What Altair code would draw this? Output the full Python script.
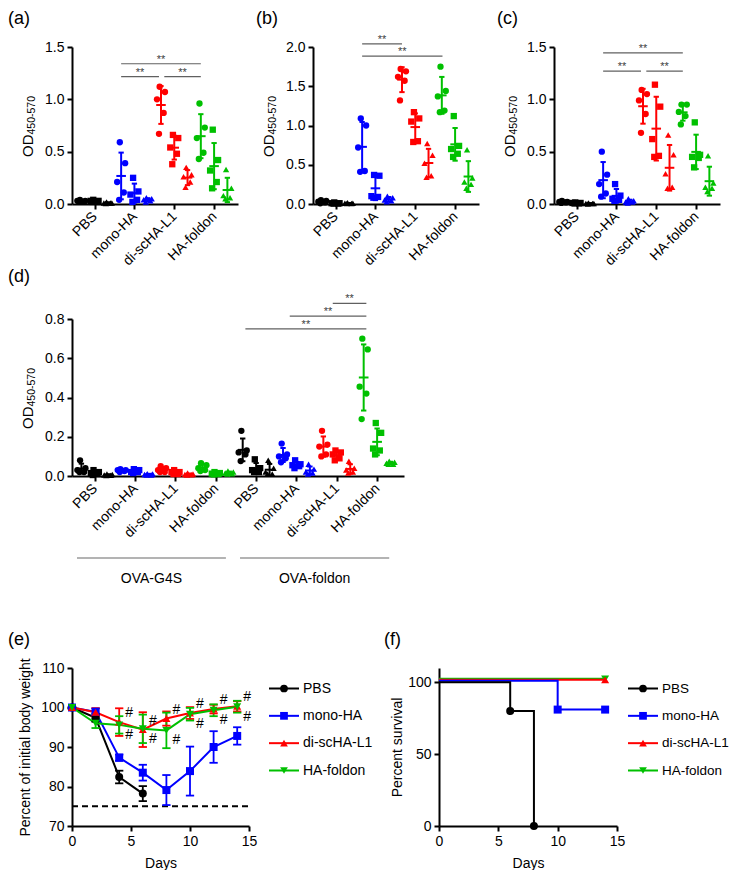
import altair as alt
import numpy as np
import pandas as pd

FONT = "Liberation Sans"
BLACK, BLUE, RED, GREEN = "#000000", "#0000FF", "#FF0000", "#00C000"

GROUPS = ["PBS", "mono-HA", "di-scHA-L1", "HA-foldon"]
GROUP_COLORS = [BLACK, BLUE, RED, GREEN]
DOT_SHAPES = ["circle", "square", "triangle-up"]
JITTER = [-0.1, 0.3, -0.3, 0.2, -0.15]

# ---- panel (a): per group -> [circle, square, triangle] replicate values
A_PBS = [[0.04, 0.03, 0.03, 0.02, 0.02], [0.04, 0.03, 0.03, 0.02, 0.02], [0.02, 0.01, 0.01, 0.01, 0.005]]
A_MONO = [[0.59, 0.39, 0.21, 0.11, 0.04], [0.25, 0.12, 0.09, 0.04, 0.02], [0.06, 0.05, 0.04, 0.03, 0.02]]
A_DI = [[1.12, 1.07, 1.00, 0.87, 0.67], [0.66, 0.63, 0.54, 0.48, 0.38], [0.35, 0.28, 0.26, 0.21, 0.16]]
A_HAF = [[0.96, 0.73, 0.63, 0.49, 0.43], [0.71, 0.42, 0.32, 0.21, 0.15], [0.33, 0.15, 0.08, 0.06, 0.05]]
A_SIG = [(3, 9, 1.34), (3, 5.85, 1.217), (6.25, 9, 1.217)]

# ---- panel (b)
B_PBS = [[0.05, 0.04, 0.03, 0.02, 0.01], [0.02, 0.01, 0.01, 0.005, 0.005], [0.015, 0.01, 0.01, 0.005, 0.005]]
B_MONO = [[1.09, 1.00, 0.72, 0.42, 0.41], [0.37, 0.36, 0.10, 0.09, 0.08], [0.10, 0.08, 0.05, 0.04, 0.03]]
B_DI = [[1.72, 1.69, 1.62, 1.57, 1.32], [1.17, 1.09, 1.05, 0.80, 0.79], [0.77, 0.62, 0.52, 0.36, 0.34]]
B_HAF = [[1.75, 1.44, 1.37, 1.19, 1.17], [1.12, 0.74, 0.70, 0.64, 0.60], [0.69, 0.33, 0.28, 0.25, 0.20]]
B_SIG = [(3, 6, 2.04), (3, 9.05, 1.885)]

# ---- panel (c)
C_PBS = [[0.03, 0.02, 0.02, 0.015, 0.01], [0.015, 0.01, 0.01, 0.005, 0.005], [0.01, 0.005, 0.005, 0.005, 0.0]]
C_MONO = [[0.50, 0.28, 0.19, 0.10, 0.07], [0.19, 0.08, 0.05, 0.04, 0.03], [0.05, 0.03, 0.02, 0.02, 0.01]]
C_DI = [[1.09, 1.05, 0.99, 0.86, 0.68], [1.14, 0.93, 0.62, 0.46, 0.45], [0.66, 0.47, 0.29, 0.16, 0.15]]
C_HAF = [[0.95, 0.95, 0.88, 0.84, 0.76], [0.78, 0.47, 0.45, 0.44, 0.35], [0.46, 0.20, 0.16, 0.15, 0.12]]
C_SIG = [(3, 9, 1.443), (3, 5.85, 1.27), (6.25, 9, 1.27)]

# ---- panel (d): OVA-G4S groups then OVA-foldon groups
D_G4S_PBS = [[0.08, 0.04, 0.03, 0.02, 0.02], [0.03, 0.02, 0.015, 0.01, 0.005], [0.01, 0.008, 0.005, 0.004, 0.003]]
D_G4S_MONO = [[0.035, 0.03, 0.03, 0.025, 0.02], [0.035, 0.03, 0.02, 0.02, 0.015], [0.012, 0.01, 0.008, 0.005, 0.005]]
D_G4S_DI = [[0.05, 0.04, 0.03, 0.02, 0.02], [0.03, 0.02, 0.02, 0.01, 0.01], [0.015, 0.01, 0.008, 0.006, 0.005]]
D_G4S_HAF = [[0.065, 0.055, 0.04, 0.03, 0.025], [0.02, 0.015, 0.012, 0.01, 0.008], [0.025, 0.02, 0.015, 0.012, 0.01]]
D_FOL_PBS = [[0.23, 0.13, 0.12, 0.11, 0.076], [0.085, 0.04, 0.03, 0.02, 0.02], [0.08, 0.04, 0.02, 0.01, 0.01]]
D_FOL_MONO = [[0.165, 0.11, 0.10, 0.09, 0.07], [0.08, 0.06, 0.055, 0.05, 0.04], [0.06, 0.035, 0.02, 0.015, 0.01]]
D_FOL_DI = [[0.23, 0.16, 0.15, 0.11, 0.10], [0.13, 0.12, 0.11, 0.09, 0.08], [0.075, 0.04, 0.03, 0.02, 0.015]]
D_FOL_HAF = [[0.70, 0.645, 0.455, 0.42, 0.29], [0.27, 0.22, 0.14, 0.13, 0.11], [0.075, 0.07, 0.065, 0.06, 0.06]]
D_SIG = [(12.2, 21.2, 0.75), (15.5, 21.2, 0.815), (18.7, 21.2, 0.88)]
D_SETS = ["OVA-G4S", "OVA-foldon"]
D_SET_SPAN = [(-0.33, 10.75), (11.8, 22.9)]

# ---- panel (e): body weight (mean, SD)
SERIES = ["PBS", "mono-HA", "di-scHA-L1", "HA-foldon"]
SERIES_SHAPES = ["circle", "square", "triangle-up", "triangle-down"]
E_DAYS = [0, 2, 4, 6, 8, 10, 12, 14]
E_MEAN = [
    [100, 97.4, 82.4, 78.2],
    [100, 98.9, 87.3, 83.5, 79.1, 83.9, 90.0, 92.8],
    [100, 98.8, 96.3, 94.4, 97.2, 98.6, 99.6, 100.3],
    [100, 96.0, 95.6, 94.6, 94.2, 98.3, 99.3, 100.2],
]
E_SD = [
    [0, 1.0, 1.6, 1.9],
    [0, 0.9, 0.8, 2.0, 3.8, 6.2, 4.0, 2.2],
    [0, 1.0, 3.5, 4.4, 1.8, 1.5, 1.1, 1.3],
    [0, 1.2, 2.2, 3.6, 4.5, 1.6, 1.5, 1.5],
]
HASH_DAYS = [4, 6, 8, 10, 12, 14]
WEIGHT_LIMIT = 75

# ---- panel (f): survival (step curves)
F_T = [[0, 6, 8], [0, 10, 14], [0, 14], [0, 14]]
F_V = [[100, 80, 0], [100, 80, 80], [100, 100], [100, 100]]


def title_layers(label, lx, ly, h, od=True):
    layers = [alt.Chart(pd.DataFrame({"t": [label]})).mark_text(
        align="left", baseline="top", fontSize=18, font=FONT, color="black"
    ).encode(x=alt.value(lx), y=alt.value(ly), text="t:N")]
    if od:
        layers.append(alt.Chart(pd.DataFrame({"t": ["OD"]})).mark_text(
            angle=270, align="right", baseline="alphabetic", fontSize=15, font=FONT, color="black"
        ).encode(x=alt.value(-39), y=alt.value(h / 2 + 9), text="t:N"))
        layers.append(alt.Chart(pd.DataFrame({"t": ["450-570"]})).mark_text(
            angle=270, align="left", baseline="alphabetic", fontSize=10.5, font=FONT, color="black"
        ).encode(x=alt.value(-37.5), y=alt.value(h / 2 + 9), text="t:N"))
    return layers


def dot_panel(groups, ymax, yticks, width, height, xmax, sig, label, lx, ly, sets=None):
    pts, st = [], []
    for g, shapes in enumerate(groups):
        color = GROUP_COLORS[g % 4]
        for s, vals in enumerate(shapes):
            col = g * 3 + s
            for k, v in enumerate(vals):
                pts.append({"x": col + JITTER[k], "y": v, "c": color, "sh": DOT_SHAPES[s]})
            m = float(np.mean(vals))
            sd = float(np.std(vals, ddof=1))
            st.append({"col": col, "m": m, "lo": m - sd, "hi": m + sd, "c": color,
                       "ml": col - 0.36, "mr": col + 0.36, "cl": col - 0.2, "cr": col + 0.2})
    pts = pd.DataFrame(pts)
    st = pd.DataFrame(st)
    n = len(groups)
    tick_vals = [g * 3 + 1 for g in range(n)]
    names = [GROUPS[g % 4] for g in range(n)]
    expr = "[" + ",".join("'%s'" % nm for nm in names) + "][round((datum.value-1)/3)]"
    xs = alt.Scale(domain=[-0.7, xmax], nice=False, zero=False)
    ys = alt.Scale(domain=[0, ymax], nice=False, zero=False)
    xax = alt.Axis(values=tick_vals, labelExpr=expr, title=None, labelAngle=-45, labelAlign="right",
                   labelBaseline="middle", labelPadding=5, labelOverlap=False, labelFlush=False, grid=False)
    yax = alt.Axis(values=yticks, format=".1f", title=None, labelPadding=3, grid=False, labelFlush=False)

    def X(f):
        return alt.X(f, type="quantitative", scale=xs, axis=xax, title=None)

    def Y(f):
        return alt.Y(f, type="quantitative", scale=ys, axis=yax, title=None)

    C = alt.Color("c:N", scale=None)
    layers = [
        alt.Chart(pts).mark_point(filled=True, size=40, opacity=1).encode(
            x=X("x"), y=Y("y"), color=C, shape=alt.Shape("sh:N", scale=None)),
        alt.Chart(st).mark_rule(strokeWidth=2).encode(x=X("col"), y=Y("lo"), y2=alt.Y2("hi"), color=C),
        alt.Chart(st).mark_rule(strokeWidth=2).encode(x=X("ml"), x2=alt.X2("mr"), y=Y("m"), color=C),
        alt.Chart(st).mark_rule(strokeWidth=2).encode(x=X("cl"), x2=alt.X2("cr"), y=Y("hi"), color=C),
        alt.Chart(st).mark_rule(strokeWidth=2).encode(x=X("cl"), x2=alt.X2("cr"), y=Y("lo"), color=C),
    ]
    sg = pd.DataFrame([{"x1": a, "x2": b, "y": y, "xm": (a + b) / 2} for a, b, y in sig])
    layers.append(alt.Chart(sg).mark_rule(strokeWidth=1.2, color="#606060").encode(
        x=X("x1"), x2=alt.X2("x2"), y=Y("y")))
    layers.append(alt.Chart(sg).mark_text(text="**", fontSize=11, font=FONT, color="#404040",
                                          baseline="alphabetic", dy=-1).encode(x=X("xm"), y=Y("y")))
    if sets:
        sdf = pd.DataFrame([{"x1": a, "x2": b, "xm": (a + b) / 2, "t": nm}
                            for nm, (a, b) in zip(sets, D_SET_SPAN)])
        layers.append(alt.Chart(sdf).mark_rule(strokeWidth=1.5, color="#9a9a9a").encode(
            x=X("x1"), x2=alt.X2("x2"), y=alt.value(height + 82)))
        layers.append(alt.Chart(sdf).mark_text(fontSize=14, font=FONT, color="black",
                                               baseline="alphabetic").encode(
            x=X("xm"), y=alt.value(height + 107), text="t:N"))
    layers += title_layers(label, lx, ly, height)
    return alt.layer(*layers).properties(width=width, height=height)


def legend_layer(x0, fs):
    df = pd.DataFrame({"i": list(range(len(SERIES))), "s": SERIES, "c": GROUP_COLORS, "sh": SERIES_SHAPES})
    y = alt.Y("i:Q", axis=None, scale=alt.Scale(domain=[0, 3], range=[20.5, 102.5], nice=False, zero=False))
    C = alt.Color("c:N", scale=None)
    base = alt.Chart(df)
    return alt.layer(
        base.mark_rule(strokeWidth=2).encode(x=alt.value(x0), x2=alt.value(x0 + 30), y=y, color=C),
        base.mark_point(filled=True, size=60, opacity=1).encode(
            x=alt.value(x0 + 15), y=y, color=C, shape=alt.Shape("sh:N", scale=None)),
        base.mark_text(align="left", baseline="middle", fontSize=fs, font=FONT, color="black").encode(
            x=alt.value(x0 + 34), y=y, text="s:N"),
    )


# ---------------- panels a-d
W1, H1 = 166, 157
pa = dot_panel([A_PBS, A_MONO, A_DI, A_HAF], 1.5, [0, 0.5, 1.0, 1.5], W1, H1, 11.8, A_SIG, "(a)", -64, -37)
pb = dot_panel([B_PBS, B_MONO, B_DI, B_HAF], 2.0, [0, 0.5, 1.0, 1.5, 2.0], W1, H1, 11.8, B_SIG, "(b)", -57, -37)
pc = dot_panel([C_PBS, C_MONO, C_DI, C_HAF], 1.5, [0, 0.5, 1.0, 1.5], W1, H1, 11.8, C_SIG, "(c)", -57, -37)
pd_ = dot_panel([D_G4S_PBS, D_G4S_MONO, D_G4S_DI, D_G4S_HAF, D_FOL_PBS, D_FOL_MONO, D_FOL_DI, D_FOL_HAF],
                0.8, [0, 0.2, 0.4, 0.6, 0.8], 332, H1, 24.0, D_SIG, "(d)", -64, -51, sets=D_SETS)

# ---------------- panel e
erows = []
for i, s in enumerate(SERIES):
    for j, (m, sd) in enumerate(zip(E_MEAN[i], E_SD[i])):
        d = E_DAYS[j]
        erows.append({"s": s, "day": d, "m": m, "lo": m - sd, "hi": m + sd, "c": GROUP_COLORS[i],
                      "sh": SERIES_SHAPES[i], "cl": d - 0.35, "cr": d + 0.35})
edf = pd.DataFrame(erows)
exs = alt.Scale(domain=[0, 15], nice=False)
eys = alt.Scale(domain=[70, 110], nice=False, zero=False)
exax = alt.Axis(values=[0, 5, 10, 15], title="Days", grid=False, labelFlush=False, labelPadding=3, titlePadding=8)
eyax = alt.Axis(values=[70, 80, 90, 100, 110], title="Percent of initial body weight", grid=False,
                labelFlush=False, labelPadding=3, titlePadding=8)


def EX(f):
    return alt.X(f, type="quantitative", scale=exs, axis=exax)


def EY(f):
    return alt.Y(f, type="quantitative", scale=eys, axis=eyax)


CC = alt.Color("c:N", scale=None)
hash_up = edf[(edf.s == SERIES[2]) & (edf.day.isin(HASH_DAYS))]
hash_dn = edf[(edf.s == SERIES[3]) & (edf.day.isin(HASH_DAYS))]
e_main = alt.layer(
    alt.Chart(pd.DataFrame({"y": [WEIGHT_LIMIT]})).mark_rule(strokeDash=[6, 4], strokeWidth=1.8, color="black").encode(
        x=alt.value(0), x2=alt.value(177), y=EY("y")),
    alt.Chart(edf).mark_line(strokeWidth=2).encode(x=EX("day"), y=EY("m"), color=CC, detail="s:N"),
    alt.Chart(edf).mark_rule(strokeWidth=1.8).encode(x=EX("day"), y=EY("lo"), y2=alt.Y2("hi"), color=CC),
    alt.Chart(edf).mark_rule(strokeWidth=1.8).encode(x=EX("cl"), x2=alt.X2("cr"), y=EY("hi"), color=CC),
    alt.Chart(edf).mark_rule(strokeWidth=1.8).encode(x=EX("cl"), x2=alt.X2("cr"), y=EY("lo"), color=CC),
    alt.Chart(edf).mark_point(filled=True, size=64, opacity=1).encode(
        x=EX("day"), y=EY("m"), color=CC, shape=alt.Shape("sh:N", scale=None)),
    alt.Chart(hash_up).mark_text(text="#", fontSize=14, font=FONT, color="black", dx=10, dy=-9,
                                 baseline="middle").encode(x=EX("day"), y=EY("m")),
    alt.Chart(hash_dn).mark_text(text="#", fontSize=14, font=FONT, color="black", dx=10, dy=10,
                                 baseline="middle").encode(x=EX("day"), y=EY("m")),
    *title_layers("(e)", -64, -37, 158, od=False),
)
pe = alt.layer(e_main, legend_layer(197, 14)).resolve_scale(y="independent").properties(width=177, height=158)

# ---------------- panel f
fxs = alt.Scale(domain=[0, 15], nice=False)
fys = alt.Scale(domain=[0, 110], nice=False)
fxax = alt.Axis(values=[0, 5, 10, 15], title="Days", grid=False, labelFlush=False, labelPadding=3, titlePadding=8)
fyax = alt.Axis(values=[0, 50, 100], title="Percent survival", grid=False, labelFlush=False,
                labelPadding=3, titlePadding=3)
F_OFF = [0, -1.5, -2.5, -3.5]
f_layers = []
for i in [3, 2, 1, 0]:
    ldf = pd.DataFrame({"t": F_T[i], "v": F_V[i]})
    mdf = ldf[ldf.t > 0]
    f_layers.append(alt.Chart(ldf).mark_line(interpolate="step-after", strokeWidth=2, color=GROUP_COLORS[i],
                                             yOffset=F_OFF[i]).encode(
        x=alt.X("t:Q", scale=fxs, axis=fxax), y=alt.Y("v:Q", scale=fys, axis=fyax)))
    f_layers.append(alt.Chart(mdf).mark_point(filled=True, size=64, opacity=1, color=GROUP_COLORS[i],
                                              shape=SERIES_SHAPES[i], yOffset=F_OFF[i]).encode(
        x=alt.X("t:Q", scale=fxs, axis=fxax), y=alt.Y("v:Q", scale=fys, axis=fyax)))
f_main = alt.layer(*f_layers, *title_layers("(f)", -55, -37, 158, od=False))
pf = alt.layer(f_main, legend_layer(189, 13.5)).resolve_scale(y="independent").properties(width=178, height=158)

row1 = alt.hconcat(pa, pb, pc, spacing=18)
top = alt.vconcat(row1, pd_, spacing=0)
row3 = alt.hconcat(pe, pf, spacing=11)
chart = alt.vconcat(top, row3, spacing=45).properties(
    padding={"left": 0, "top": 2, "right": 0, "bottom": 0}
).configure(font=FONT).configure_axis(
    labelFont=FONT, titleFont=FONT, labelFontSize=14, titleFontSize=14, titleFontWeight="normal",
    labelColor="black", titleColor="black", domainColor="black", tickColor="black",
    domainWidth=2, tickWidth=2, tickSize=5, grid=False
).configure_view(strokeWidth=0)

chart.save("out.html", embed_options={"renderer": "svg", "actions": False})
